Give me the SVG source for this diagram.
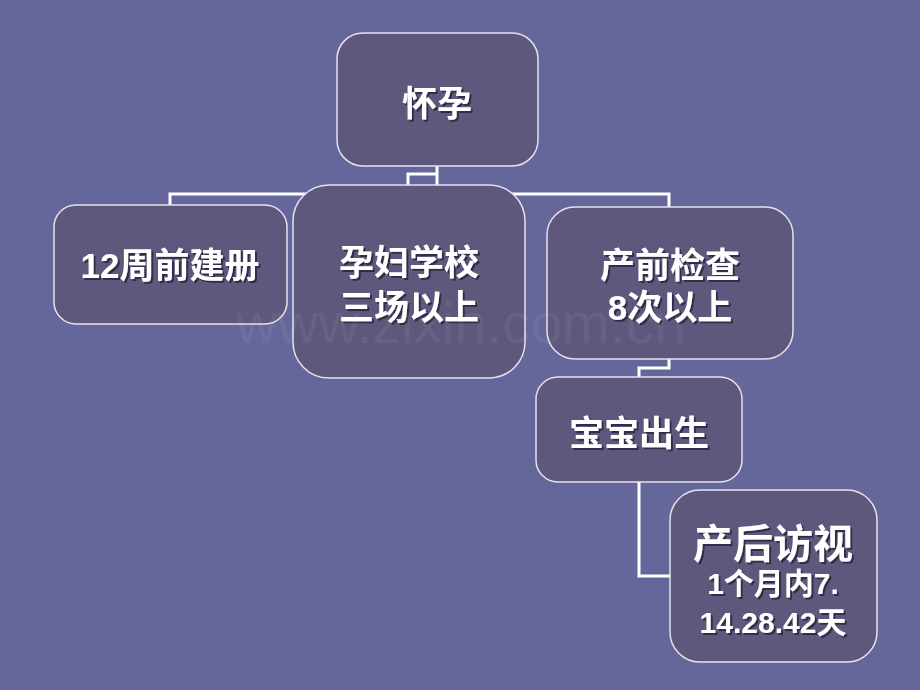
<svg xmlns="http://www.w3.org/2000/svg" width="920" height="690" viewBox="0 0 920 690">
<defs>
<style>
.box{fill:#5E587D;stroke:#E4E2EE;stroke-width:1.5}
.t{font-family:"Liberation Sans","Noto Sans CJK SC",sans-serif;font-weight:bold;fill:#FFFFFF;text-anchor:middle;filter:url(#sh)}
.c{fill:none;stroke:#FFFFFF;stroke-width:3}
.wm{font-family:"Liberation Sans",sans-serif;font-size:57px;fill:#FFFFFF;fill-opacity:0.06;text-anchor:middle}
</style>
<filter id="sh" x="-10%" y="-20%" width="130%" height="150%">
<feDropShadow dx="2" dy="2" stdDeviation="0.6" flood-color="#1E1A30" flood-opacity="0.7"/>
</filter>
</defs>
<rect width="920" height="690" fill="#65669A"/>
<g id="connectors">
<path class="c" d="M437,166 V194 M170,205 V194 H669 V207 M437,174 H408 V185"/>
<path class="c" d="M669,359 V368 H639 V377 M639,482 V576 H670"/>
</g>
<g id="n1"><rect class="box" x="337" y="33" width="201" height="133" rx="26"/><text class="t" x="437" y="116" font-size="35">怀孕</text></g>
<g id="n2"><rect class="box" x="54" y="205" width="233" height="119" rx="22"/><text class="t" x="170" y="278" font-size="35">12周前建册</text></g>
<g id="n3"><rect class="box" x="293" y="185" width="232" height="193" rx="36"/><text class="t" x="409" y="275" font-size="35">孕妇学校</text><text class="t" x="409" y="320" font-size="35">三场以上</text></g>
<g id="n4"><rect class="box" x="547" y="207" width="246" height="152" rx="28"/><text class="t" x="670" y="278" font-size="35">产前检查</text><text class="t" x="670" y="320" font-size="35">8次以上</text></g>
<g id="n5"><rect class="box" x="536" y="377" width="206" height="105" rx="22"/><text class="t" x="639" y="446" font-size="35">宝宝出生</text></g>
<g id="n6"><rect class="box" x="670" y="490" width="207" height="172" rx="30"/><text class="t" x="773" y="558" font-size="40">产后访视</text><text class="t" x="773" y="594" font-size="30">1个月内7.</text><text class="t" x="773" y="633" font-size="30">14.28.42天</text></g>
<text class="wm" x="461" y="343">www.zixin.com.cn</text>
</svg>
